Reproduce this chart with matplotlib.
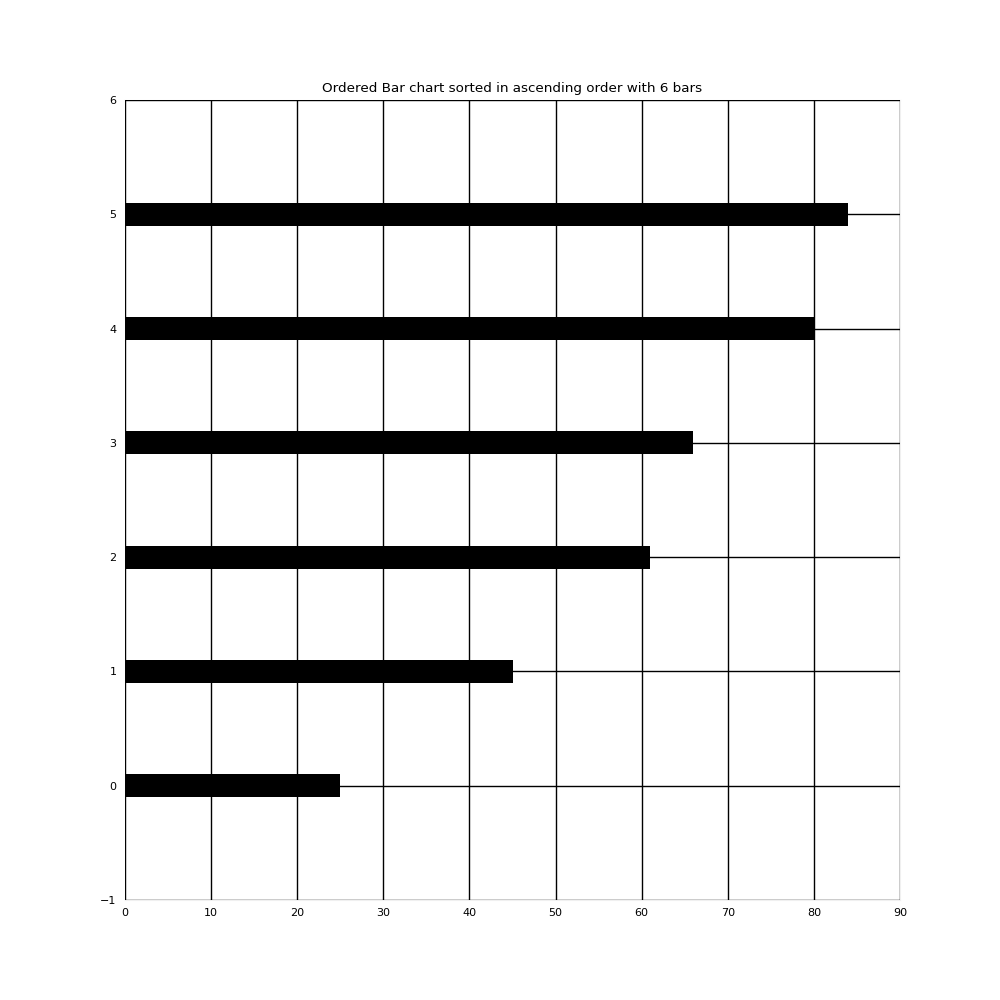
import matplotlib
matplotlib.use('Agg')
import matplotlib.pyplot as plt

positions = [0, 1, 2, 3, 4, 5]
values = [25, 45, 61, 66, 80, 84]

fig = plt.figure(figsize=(10, 10), dpi=100)
ax = fig.add_subplot(111)
ax.barh(positions, values, height=0.2, color='black', zorder=2)
ax.set_xlim(0, 90)
ax.set_ylim(-1, 6)
ax.grid(True, color='black', linestyle='-', linewidth=1, zorder=1)
ax.set_axisbelow(True)
ax.tick_params(length=0, labelsize=8, pad=6)
for s in ax.spines.values():
    s.set_color('#f0f0f0')
    s.set_zorder(0)
ax.set_title('Ordered Bar chart sorted in ascending order with 6 bars', fontsize=9.7)
fig.subplots_adjust(left=0.125, right=0.9, bottom=0.1, top=0.9)
fig.savefig('out.png')
